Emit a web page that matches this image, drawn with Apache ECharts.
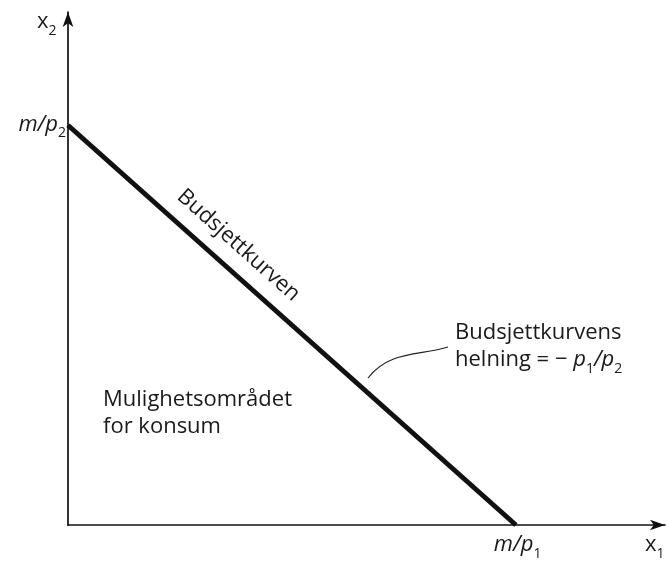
<!DOCTYPE html>
<html><head><meta charset="utf-8">
<script src="https://cdn.jsdelivr.net/npm/echarts@6/dist/echarts.min.js"></script>
<style>html,body{margin:0;padding:0;background:#fff}#c{width:669px;height:561px}</style>
</head><body><div id="c"></div>
<script>
// Budget line intercepts (abstract units): m/p1 on x-axis, m/p2 on y-axis
const budgetX = [0, 10];
const budgetY = [9, 0];
const xMax = 13.33;
const yMax = 11.55;
const curveLabel = 'Budsjettkurven';
const regionLines = ['Mulighetsområdet', 'for konsum'];
const slopeLines = ['Budsjettkurvens', '{n|helning = \u2212 }{i|p}{s|1}{i|/p}{s|2}'];
const xLabel = '{n|x}{s|1}', yLabel = '{n|x}{s|2}';
const xTick = '{i|m/p}{s|1}', yTick = '{i|m/p}{s|2}';

const chart = echarts.init(document.getElementById('c'));
const axisCommon = {
  type: 'value', min: 0,
  axisLine: { show: true, onZero: false, symbol: ['none', 'arrow'], symbolSize: [8, 15],
    lineStyle: { color: '#111', width: 1.7 } },
  axisTick: { show: false }, axisLabel: { show: false }, splitLine: { show: false }
};
chart.setOption({
  animation: false,
  grid: { left: 68, right: 4, top: 12, bottom: 36 },
  xAxis: Object.assign({}, axisCommon, { max: xMax }),
  yAxis: Object.assign({}, axisCommon, { max: yMax }),
  series: [{
    type: 'line', symbol: 'none',
    data: budgetX.map((x, i) => [x, budgetY[i]]),
    lineStyle: { color: '#111', width: 5 }
  }]
});

const pY = chart.convertToPixel({ gridIndex: 0 }, [0, budgetY[0]]);
const pX = chart.convertToPixel({ gridIndex: 0 }, [budgetX[1], 0]);
const origin = chart.convertToPixel({ gridIndex: 0 }, [0, 0]);
const end = chart.convertToPixel({ gridIndex: 0 }, [xMax, yMax]);
const ang = Math.atan2(pX[1] - pY[1], pX[0] - pY[0]);
const F = '"Open Sans", Lato, sans-serif';
const C = '#1a1a1a';
const rich = {
  n: { fontFamily: F, fontSize: 22, fontStyle: 'normal', lineHeight: 32, verticalAlign: 'middle', fill: C },
  i: { fontFamily: F, fontSize: 22, fontStyle: 'italic', lineHeight: 32, verticalAlign: 'middle', fill: C },
  s: { fontFamily: F, fontSize: 14, fontStyle: 'normal', lineHeight: 12, verticalAlign: 'bottom', fill: C }
};
const rt = (x, y, s, align) => ({
  type: 'text', x: x, y: y,
  style: { text: s, rich: rich, fontFamily: F, fontSize: 22, fill: C,
    align: align || 'left', textAlign: align || 'left', verticalAlign: 'middle', textVerticalAlign: 'middle' }
});
const txt = (x, y, s) => ({
  type: 'text', x: x, y: y,
  style: { text: s, font: '22px ' + F, fill: C,
    align: 'left', textAlign: 'left', verticalAlign: 'middle', textVerticalAlign: 'middle' }
});

const g = [];
g.push(rt(origin[0] - 31, end[1] + 10, yLabel));         // x2
g.push(rt(end[0] - 20, origin[1] + 20, xLabel));         // x1
g.push(rt(pY[0] - 2, pY[1] - 1, yTick, 'right'));        // m/p2
g.push(rt(pX[0] - 22, pX[1] + 20, xTick));               // m/p1
// rotated curve label along the budget line
const t = 0.345, off = 24;
const P = [pY[0] + (pX[0] - pY[0]) * t, pY[1] + (pX[1] - pY[1]) * t];
g.push({ type: 'text', x: P[0] + off * Math.sin(ang), y: P[1] - off * Math.cos(ang), rotation: -ang,
  style: { text: curveLabel, font: '22px ' + F, fill: C, align: 'center', textAlign: 'center',
    verticalAlign: 'middle', textVerticalAlign: 'middle' } });
// region label
g.push(txt(103, 400, regionLines[0]));
g.push(txt(103, 427, regionLines[1]));
// slope label
g.push(txt(455, 333, slopeLines[0]));
g.push(rt(455, 360, slopeLines[1]));
// leader curve
g.push({ type: 'bezierCurve', shape: { x1: 368, y1: 378, cpx1: 390, cpy1: 350, cpx2: 420, cpy2: 356, x2: 448, y2: 347 },
  style: { stroke: '#222', lineWidth: 1.2, fill: null } });
chart.setOption({ graphic: g });
</script></body></html>
